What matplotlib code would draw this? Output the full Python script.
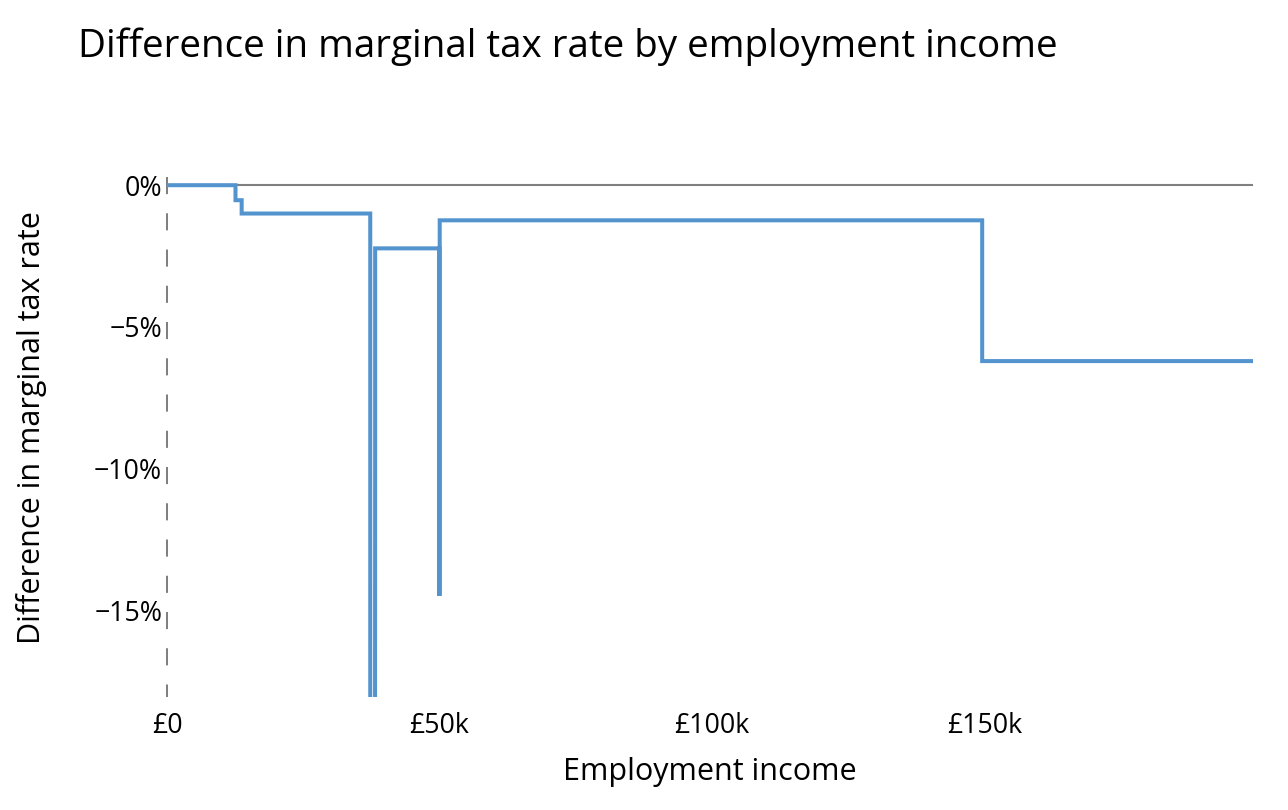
import matplotlib
matplotlib.use("Agg")
import matplotlib.pyplot as plt
from matplotlib.ticker import FixedLocator, FixedFormatter

# Data: employment income (GBP) and difference in marginal tax rate (%)
income = [0, 12570, 12570, 13700, 13700, 37300, 37300, 38100, 38200, 38200,
          49950, 50000, 50050, 149600, 149600, 199300]
mtr_diff = [0.0, 0.0, -0.53, -0.53, -1.0, -1.0, -60.0, -60.0, -9.42, -2.23,
            -2.23, -14.5, -1.24, -1.24, -6.21, -6.21]

x_ticks = [0, 50000, 100000, 150000]
x_tick_labels = ["£0", "£50k", "£100k", "£150k"]
y_ticks = [0, -5, -10, -15]
y_tick_labels = ["0%", "\u22125%", "\u221210%", "\u221215%"]

FONT = "Open Sans"
plt.rcParams["font.family"] = [FONT, "DejaVu Sans"]

W, H = 1288, 810
fig = plt.figure(figsize=(W / 100, H / 100), dpi=100)
left, right, top, bottom = 167, 1253, 176.7, 697
ax = fig.add_axes([left / W, 1 - bottom / H, (right - left) / W, (bottom - top) / H])

XMAX, YMIN, YMAX = 199300, -18.07, 0.3
ax.set_xlim(0, XMAX)
ax.set_ylim(YMIN, YMAX)

# zero line and dashed vertical at x=0 (drawn from the top down)
ax.axhline(0, color="#808080", lw=1.5, zorder=1)
ax.plot([0, 0], [YMAX, YMIN], color="#808080", lw=1.45, ls=(0, (8.5, 9.5)),
        zorder=1, clip_on=False, solid_capstyle="butt", dash_capstyle="butt")

ax.plot(income, mtr_diff, color="#5394CF", lw=2.9, zorder=3, solid_joinstyle="miter")

for s in ax.spines.values():
    s.set_visible(False)

ax.xaxis.set_major_locator(FixedLocator(x_ticks))
ax.xaxis.set_major_formatter(FixedFormatter(x_tick_labels))
ax.yaxis.set_major_locator(FixedLocator(y_ticks))
ax.yaxis.set_major_formatter(FixedFormatter(y_tick_labels))
ax.tick_params(axis="both", length=0, labelsize=19.3, colors="#000000")
ax.tick_params(axis="x", pad=10.5)
ax.tick_params(axis="y", pad=3.5)

fig.text(710 / W, 1 - 780 / H, "Employment income", fontsize=22,
         ha="center", va="baseline")
fig.text(32 / W, 1 - 428 / H, "Difference in marginal tax rate", fontsize=22,
         ha="center", va="center", rotation=90)

fig.text(78 / W, 1 - 57 / H, "Difference in marginal tax rate by employment income",
         fontsize=27.8, ha="left", va="baseline")

fig.savefig("out.png", dpi=100, facecolor="white")
